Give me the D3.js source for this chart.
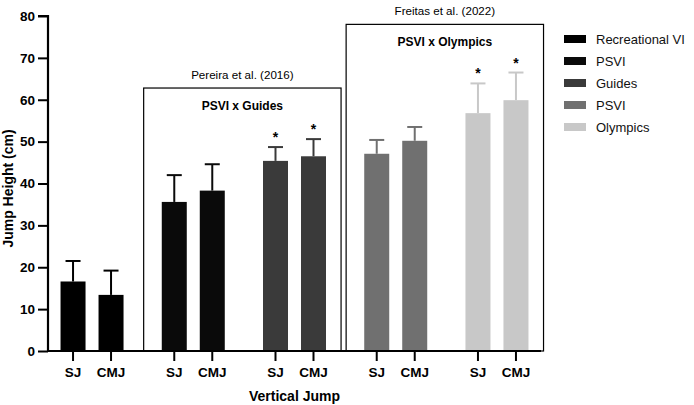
<!DOCTYPE html>
<html>
<head>
<meta charset="utf-8">
<script src="https://cdn.jsdelivr.net/npm/d3@7"></script>
<style>
  body { margin: 0; background: #fff; }
  svg { font-family: "Liberation Sans", Arial, sans-serif; }
</style>
</head>
<body>
<div id="chart"></div>
<script>
// 資料
const groups = ['Recreational VI', 'PSVI', 'Guides', 'PSVI 2', 'Olympics']
const legendLabels = ['Recreational VI', 'PSVI', 'Guides', 'PSVI', 'Olympics']
const jumps = ['SJ', 'CMJ']
const means = [
  [16.6, 13.4],
  [35.6, 38.3],
  [45.4, 46.5],
  [47.1, 50.2],
  [56.8, 59.9],
]
const sds = [
  [4.9, 5.8],
  [6.4, 6.3],
  [3.3, 4.1],
  [3.3, 3.3],
  [7.1, 6.6],
]
const stars = [
  [false, false],
  [false, false],
  [true, true],
  [false, false],
  [true, true],
]
const colors = ['#000000', '#0a0a0a', '#3a3a3a', '#707070', '#c8c8c8']
const yTicks = [0, 10, 20, 30, 40, 50, 60, 70, 80]
const studies = [
  { from: 'PSVI', to: 'Guides', title: 'Pereira et al. (2016)', sub: 'PSVI x Guides', top: 62.8 },
  { from: 'PSVI 2', to: 'Olympics', title: 'Freitas et al. (2022)', sub: 'PSVI x Olympics', top: 78.0 },
]

const width = 694
const height = 405
const margin = { top: 16, right: 153, bottom: 54, left: 48 }

const svg = d3.select('#chart').append('svg').attr('width', width).attr('height', height)

const x = d3.scalePoint().domain(groups).range([margin.left, width - margin.right]).padding(0.435)
const inner = d3.scalePoint().domain(jumps).range([-19, 19])
const y = d3.scaleLinear().domain([0, 80]).range([height - margin.bottom, margin.top])
const barW = 25
const step = x.step()

// 研究框
studies.forEach(s => {
  const x0 = x(s.from) - step * 0.49
  const x1 = x(s.to) + step * 0.46
  svg.append('rect')
    .attr('x', x0).attr('y', y(s.top))
    .attr('width', x1 - x0).attr('height', y(0) - y(s.top))
    .attr('fill', 'none').attr('stroke', '#000').attr('stroke-width', 1.2)
  svg.append('text')
    .attr('x', (x0 + x1) / 2).attr('y', y(s.top) - 9)
    .attr('text-anchor', 'middle').attr('font-size', 11.6)
    .text(s.title)
  svg.append('text')
    .attr('x', (x0 + x1) / 2).attr('y', y(s.top) + 22)
    .attr('text-anchor', 'middle').attr('font-size', 12).attr('font-weight', 'bold')
    .text(s.sub)
})

// 長條
const barData = []
groups.forEach((g, gi) => {
  jumps.forEach((j, ji) => {
    barData.push({ g, gi, j, mean: means[gi][ji], sd: sds[gi][ji], star: stars[gi][ji] })
  })
})

const bars = svg.append('g').selectAll('g').data(barData).join('g')
  .attr('transform', d => `translate(${x(d.g) + inner(d.j)},0)`)

bars.append('line')
  .attr('x1', 0).attr('x2', 0)
  .attr('y1', d => y(d.mean)).attr('y2', d => y(d.mean + d.sd))
  .attr('stroke', d => colors[d.gi]).attr('stroke-width', 2)
bars.append('line')
  .attr('x1', -7.5).attr('x2', 7.5)
  .attr('y1', d => y(d.mean + d.sd)).attr('y2', d => y(d.mean + d.sd))
  .attr('stroke', d => colors[d.gi]).attr('stroke-width', 2)
bars.append('rect')
  .attr('x', -barW / 2).attr('width', barW)
  .attr('y', d => y(d.mean)).attr('height', d => y(0) - y(d.mean))
  .attr('fill', d => colors[d.gi])
bars.filter(d => d.star).append('text')
  .attr('y', d => y(d.mean + d.sd) - 5)
  .attr('text-anchor', 'middle').attr('font-size', 14).attr('font-weight', 'bold')
  .text('*')

// 座標軸
const yAxis = svg.append('g')
  .attr('transform', `translate(${margin.left},0)`)
  .call(d3.axisLeft(y).tickValues(yTicks).tickSize(10).tickPadding(3))
yAxis.select('.domain').attr('stroke-width', 2.2).attr('d', `M-10,${y(80)}H0V${y(0)}`)
yAxis.selectAll('.tick line').attr('stroke-width', 2)
yAxis.selectAll('.tick text').attr('font-size', 13.5).attr('font-weight', 'bold').attr('fill', '#000')
  .attr('font-family', '"Liberation Sans", Arial, sans-serif')

svg.append('line')
  .attr('x1', margin.left - 1).attr('x2', width - margin.right)
  .attr('y1', y(0)).attr('y2', y(0))
  .attr('stroke', '#000').attr('stroke-width', 2.2)

const xt = svg.append('g').selectAll('g').data(barData).join('g')
  .attr('transform', d => `translate(${x(d.g) + inner(d.j)},${y(0)})`)
xt.append('line').attr('y1', 0).attr('y2', 10).attr('stroke', '#000').attr('stroke-width', 2)
xt.append('text')
  .attr('y', 26).attr('text-anchor', 'middle')
  .attr('font-size', 13.5).attr('font-weight', 'bold')
  .text(d => d.j)

// 標題
svg.append('text')
  .attr('transform', `translate(13,${(y(0) + y(80)) / 2 + 5}) rotate(-90)`)
  .attr('text-anchor', 'middle').attr('font-size', 14).attr('font-weight', 'bold')
  .text('Jump Height (cm)')
svg.append('text')
  .attr('x', (margin.left + width - margin.right) / 2).attr('y', 401)
  .attr('text-anchor', 'middle').attr('font-size', 14).attr('font-weight', 'bold')
  .text('Vertical Jump')

// 圖例
const legend = svg.append('g').attr('transform', 'translate(564,39)')
const lg = legend.selectAll('g').data(legendLabels).join('g')
  .attr('transform', (d, i) => `translate(0,${i * 22})`)
lg.append('rect').attr('x', 0).attr('y', -4).attr('width', 22).attr('height', 8)
  .attr('fill', (d, i) => colors[i])
lg.append('text').attr('x', 32).attr('y', 5).attr('font-size', 13).attr('fill', '#111')
  .text(d => d)
</script>
</body>
</html>
